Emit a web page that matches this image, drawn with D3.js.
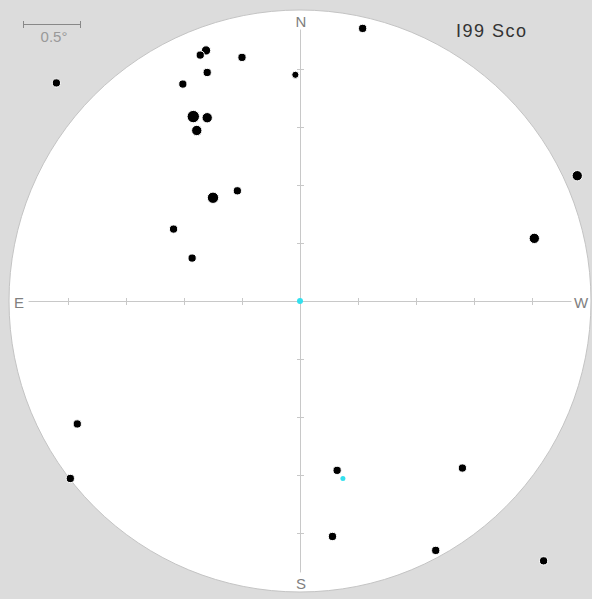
<!DOCTYPE html>
<html><head><meta charset="utf-8">
<script src="https://cdn.jsdelivr.net/npm/d3@7"></script>
<style>html,body{margin:0;padding:0;background:#dcdcdc;}svg{display:block;}</style>
</head><body>
<script>
// Star offsets from field centre, degrees (east positive = left, north positive = up)
const starEast  = [2.10,-0.54,0.81,0.86,0.50,0.04,0.80,1.01,0.92,0.80,0.89,0.75,0.54,1.09,0.93,-2.39,-2.02,1.92,1.98,-0.32,-1.40,-0.28,-1.17,-2.10];
const starNorth = [1.88,2.35,2.16,2.12,2.10,1.95,1.97,1.87,1.59,1.58,1.47,0.89,0.95,0.62,0.37,1.08,0.54,-1.06,-1.53,-1.46,-1.44,-2.03,-2.15,-2.24];
const starMag   = [10,10,9.5,10,10,10.5,10,10,8,9,9,8.5,10,10,10,9,9,10,10,10,10,10,10,10];
// Highlighted (cyan) objects
const targetEast  = [0.00,-0.37];
const targetNorth = [0.00,-1.53];
const targetSize  = [3,2.5];
const axisTicks = [-2,-1.5,-1,-0.5,0.5,1,1.5,2];
const fieldRadius = 2.5;
const scaleBarDeg = 0.5;
const title = "I99 Sco";

const W = 592, H = 599, cx = 300, cy = 301, R = 290;
const x = d3.scaleLinear().domain([fieldRadius, -fieldRadius]).range([cx - R, cx + R]);
const y = d3.scaleLinear().domain([fieldRadius, -fieldRadius]).range([cy - R, cy + R]);
const rScale = d3.scaleLinear().domain([8, 10.5]).range([6.2, 3.6]);

const svg = d3.select("body").append("svg").attr("width", W).attr("height", H);
svg.append("rect").attr("width", W).attr("height", H).attr("fill", "#dcdcdc");
svg.append("circle").attr("cx", x(0)).attr("cy", y(0)).attr("r", x(-fieldRadius) - x(0) + 1)
  .attr("fill", "#ffffff").attr("stroke", "#c4c4c4").attr("stroke-width", 1);

const axisCol = "#c8c8c8", labCol = "#808080";
// crosshair
svg.append("line").attr("x1", x(2.34)).attr("x2", x(-2.34)).attr("y1", y(0)+0.5).attr("y2", y(0)+0.5)
  .attr("stroke", axisCol).attr("stroke-width", 1);
svg.append("line").attr("y1", y(2.34)).attr("y2", y(-2.34)).attr("x1", x(0)+0.5).attr("x2", x(0)+0.5)
  .attr("stroke", axisCol).attr("stroke-width", 1);
svg.selectAll(".tx").data(axisTicks).enter().append("line")
  .attr("x1", d => x(d)+0.5).attr("x2", d => x(d)+0.5).attr("y1", y(0)-3).attr("y2", y(0)+4)
  .attr("stroke", axisCol);
svg.selectAll(".ty").data(axisTicks).enter().append("line")
  .attr("y1", d => y(d)+0.5).attr("y2", d => y(d)+0.5).attr("x1", x(0)-3).attr("x2", x(0)+4)
  .attr("stroke", axisCol);

const lab = (t, px, py, anchor) => svg.append("text").attr("x", px).attr("y", py).attr("text-anchor", anchor || "middle")
  .attr("font-family", "Liberation Sans, Arial, sans-serif").attr("font-size", 15).attr("fill", labCol).text(t);
lab("N", x(0)+1, 27);
lab("S", x(0)+1, 589);
lab("E", 19, 308);
lab("W", 581, 308);

// scale bar
const sb0 = 23, sb1 = sb0 + (x(0) - x(scaleBarDeg));
svg.append("line").attr("x1", sb0).attr("x2", sb1).attr("y1", 24.5).attr("y2", 24.5).attr("stroke", "#888");
svg.append("line").attr("x1", sb0+0.5).attr("x2", sb0+0.5).attr("y1", 21).attr("y2", 28).attr("stroke", "#888");
svg.append("line").attr("x1", sb1-0.5).attr("x2", sb1-0.5).attr("y1", 21).attr("y2", 28).attr("stroke", "#888");
svg.append("text").attr("x", (sb0+sb1)/2 + 2).attr("y", 42).attr("text-anchor", "middle")
  .attr("font-family", "Liberation Sans, Arial, sans-serif").attr("font-size", 15).attr("fill", "#999")
  .text(scaleBarDeg + "°");

svg.append("text").attr("x", 456).attr("y", 37).attr("font-family", "Liberation Sans, Arial, sans-serif")
  .attr("font-size", 18).attr("letter-spacing", 1.5).attr("fill", "#333").text(title);

// stars
svg.selectAll(".star").data(starEast.map((e, i) => ({e, n: starNorth[i], m: starMag[i]}))).enter()
  .append("circle").attr("cx", d => x(d.e)).attr("cy", d => y(d.n)).attr("r", d => rScale(d.m))
  .attr("fill", "#000").attr("stroke", "#fff").attr("stroke-width", 1);
svg.selectAll(".tgt").data(targetEast.map((e, i) => ({e, n: targetNorth[i], s: targetSize[i]}))).enter()
  .append("circle").attr("cx", d => x(d.e)).attr("cy", d => y(d.n)).attr("r", d => d.s)
  .attr("fill", "#33e0ee");
</script>
</body></html>
